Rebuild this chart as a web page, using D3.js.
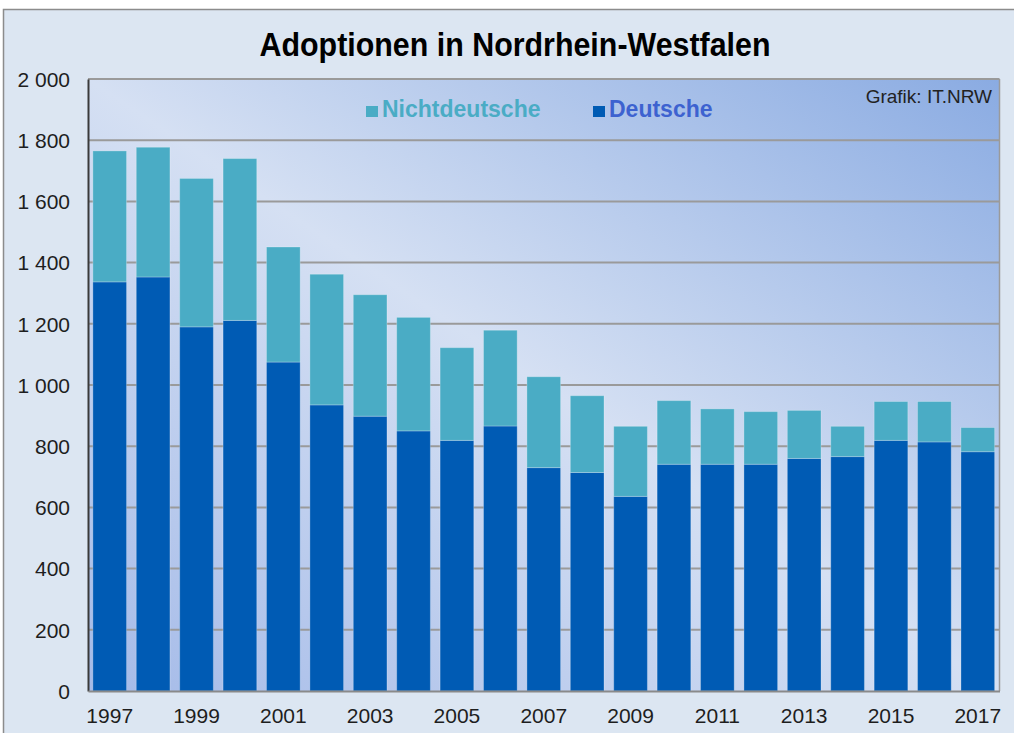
<!DOCTYPE html>
<html>
<head>
<meta charset="utf-8">
<title>Adoptionen in Nordrhein-Westfalen</title>
<script src="https://cdn.jsdelivr.net/npm/d3@7"></script>
<style>
  body { margin: 0; background: #ffffff; }
  svg text { font-family: "Liberation Sans", Arial, sans-serif; }
</style>
</head>
<body>
<script>
// data
var years = ['1997','1998','1999','2000','2001','2002','2003','2004','2005','2006','2007',
             '2008','2009','2010','2011','2012','2013','2014','2015','2016','2017'];
var deutsche =      [1337, 1353, 1190, 1211, 1075, 935, 898, 850, 819, 866, 730,
                     714, 636, 741, 741, 741, 760, 766, 819, 814, 782];
var nichtdeutsche = [428, 424, 485, 529, 376, 427, 397, 371, 303, 313, 297,
                     251, 229, 208, 181, 172, 157, 99, 127, 132, 79];
var yTicks = [0, 200, 400, 600, 800, 1000, 1200, 1400, 1600, 1800, 2000];
var xLabels = ['1997','1999','2001','2003','2005','2007','2009','2011','2013','2015','2017'];
var seriesNames = ['Nichtdeutsche', 'Deutsche'];

var width = 1014, height = 733;
var plot = {left: 88, right: 999.5, top: 79, bottom: 691};
var colors = {Deutsche: '#005bb4', Nichtdeutsche: '#4aacc5'};
var textColors = {Deutsche: '#3d62d0', Nichtdeutsche: '#4aacc5'};

var svg = d3.select('body').append('svg')
    .attr('width', width)
    .attr('height', height);

// gradient for the plot area
var grad = svg.append('defs').append('linearGradient')
    .attr('id', 'plotBg')
    .attr('x1', 0).attr('y1', 1).attr('x2', 1).attr('y2', 0);
grad.append('stop').attr('offset', 0).attr('stop-color', '#a4bae8');
grad.append('stop').attr('offset', 0.5).attr('stop-color', '#d5e0f3');
grad.append('stop').attr('offset', 1).attr('stop-color', '#8aabe2');

// outer frame
svg.append('rect')
    .attr('x', 3.5).attr('y', 9.5)
    .attr('width', 1030).attr('height', 740)
    .attr('fill', '#dce6f2')
    .attr('stroke', '#8c8c8c')
    .attr('stroke-width', 1.5);

svg.append('rect')
    .attr('x', plot.left).attr('y', plot.top)
    .attr('width', plot.right - plot.left).attr('height', plot.bottom - plot.top)
    .attr('fill', 'url(#plotBg)');

var x = d3.scaleBand()
    .domain(years)
    .range([plot.left, plot.right])
    .paddingInner(0.224)
    .paddingOuter(0.112);

var y = d3.scaleLinear()
    .domain([0, 2000])
    .range([plot.bottom, plot.top]);

// grid lines
svg.append('g')
    .selectAll('line')
    .data(yTicks.filter(function(d) { return d > 0; }))
    .enter().append('line')
    .attr('x1', plot.left).attr('x2', plot.right)
    .attr('y1', function(d) { return y(d); })
    .attr('y2', function(d) { return y(d); })
    .attr('stroke', '#9a9a9a')
    .attr('stroke-width', 2);

// right border
svg.append('line')
    .attr('x1', plot.right).attr('x2', plot.right)
    .attr('y1', plot.top).attr('y2', plot.bottom)
    .attr('stroke', '#9a9a9a').attr('stroke-width', 1.5);

// stacked bars
var rows = years.map(function(yr, i) {
    return {year: yr, Deutsche: deutsche[i], Nichtdeutsche: nichtdeutsche[i]};
});
var stack = d3.stack().keys(['Deutsche', 'Nichtdeutsche'])(rows);

svg.append('g')
    .selectAll('g')
    .data(stack)
    .enter().append('g')
    .attr('fill', function(d) { return colors[d.key]; })
    .selectAll('rect')
    .data(function(d) { return d; })
    .enter().append('rect')
    .attr('x', function(d) { return x(d.data.year); })
    .attr('y', function(d) { return y(d[1]); })
    .attr('width', x.bandwidth())
    .attr('height', function(d) { return y(d[0]) - y(d[1]); })
    .attr('stroke', 'rgba(255,255,255,0.25)')
    .attr('stroke-width', 1);

// y axis, thousands separated by a space
var yAxis = svg.append('g')
    .attr('transform', 'translate(' + plot.left + ',0)')
    .call(d3.axisLeft(y).tickValues(yTicks).tickSize(0).tickPadding(18)
        .tickFormat(function(d) { return d3.format(',')(d).replace(',', ' '); }));
yAxis.select('.domain').attr('stroke', '#3a3a3a').attr('stroke-width', 2);
yAxis.selectAll('text')
    .attr('font-size', 21)
    .attr('fill', '#1e1e1e')
    .attr('dy', '0.35em');

// x axis
var xAxis = svg.append('g')
    .attr('transform', 'translate(0,' + plot.bottom + ')')
    .call(d3.axisBottom(x).tickValues(xLabels).tickSize(0).tickPadding(17));
xAxis.select('.domain').attr('stroke', '#8a8a8a').attr('stroke-width', 2);
xAxis.selectAll('text')
    .attr('font-size', 21)
    .attr('fill', '#1e1e1e');

// title (condensed like the original)
svg.append('text')
    .attr('x', 515).attr('y', 56)
    .attr('text-anchor', 'middle')
    .attr('font-size', 33)
    .attr('font-weight', 'bold')
    .attr('textLength', 511)
    .attr('lengthAdjust', 'spacingAndGlyphs')
    .attr('fill', '#000')
    .text('Adoptionen in Nordrhein-Westfalen');

// legend
var legendX = {Nichtdeutsche: 366, Deutsche: 593};
var legend = svg.append('g')
    .selectAll('g')
    .data(seriesNames)
    .enter().append('g')
    .attr('transform', function(d) { return 'translate(' + legendX[d] + ',106)'; });
legend.append('rect')
    .attr('width', 12).attr('height', 11)
    .attr('fill', function(d) { return colors[d]; });
legend.append('text')
    .attr('x', 16).attr('y', 11)
    .attr('font-size', 23)
    .attr('font-weight', 'bold')
    .attr('fill', function(d) { return textColors[d]; })
    .text(function(d) { return d; });

// source
svg.append('text')
    .attr('x', 992).attr('y', 103)
    .attr('text-anchor', 'end')
    .attr('font-size', 19)
    .attr('fill', '#222')
    .text('Grafik: IT.NRW');
</script>
</body>
</html>
